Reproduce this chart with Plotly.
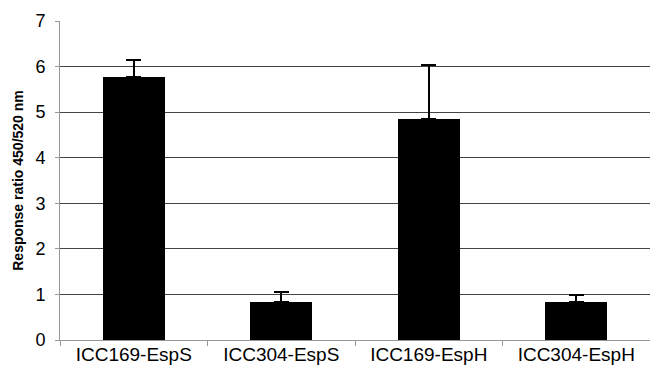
import plotly.graph_objects as go

categories = ["ICC169-EspS", "ICC304-EspS", "ICC169-EspH", "ICC304-EspH"]
values = [5.77, 0.83, 4.84, 0.83]
errors_plus = [0.38, 0.23, 1.19, 0.15]
y_ticks = [0, 1, 2, 3, 4, 5, 6, 7]

fig = go.Figure()
fig.add_trace(go.Bar(
    x=categories, y=values, width=0.42,
    marker=dict(color="black", line=dict(width=0)),
    error_y=dict(type="data", array=errors_plus, arrayminus=[0]*len(values),
                 symmetric=False, color="black", thickness=2, width=7.5),
))

fig.update_layout(
    width=650, height=374,
    margin=dict(l=60, r=0, t=21, b=34),
    plot_bgcolor="white", paper_bgcolor="white",
    font=dict(family="Liberation Sans, Arial, sans-serif", color="black"),
    showlegend=False,
    bargap=0,
)
fig.update_xaxes(
    type="category", tickson="boundaries", ticks="outside", ticklen=5,
    tickcolor="#999", showline=True, linecolor="#999", linewidth=1,
    tickfont=dict(size=19), showgrid=False, ticklabelstandoff=-3,
)
fig.update_yaxes(
    range=[0, 7], tickvals=y_ticks, ticks="outside", ticklen=4,
    tickcolor="#999", showline=True, linecolor="#999", linewidth=1,
    showgrid=True, gridcolor="#444", gridwidth=1, zeroline=False,
    tickfont=dict(size=18), ticklabelstandoff=6,
    title=dict(text="<b>Response ratio 450/520 nm</b>", font=dict(size=14), standoff=8),
)
fig.write_html(
    "out.html",
    config={"displayModeBar": False},
    post_script="document.body.style.margin='0';document.body.style.overflow='hidden';",
)
